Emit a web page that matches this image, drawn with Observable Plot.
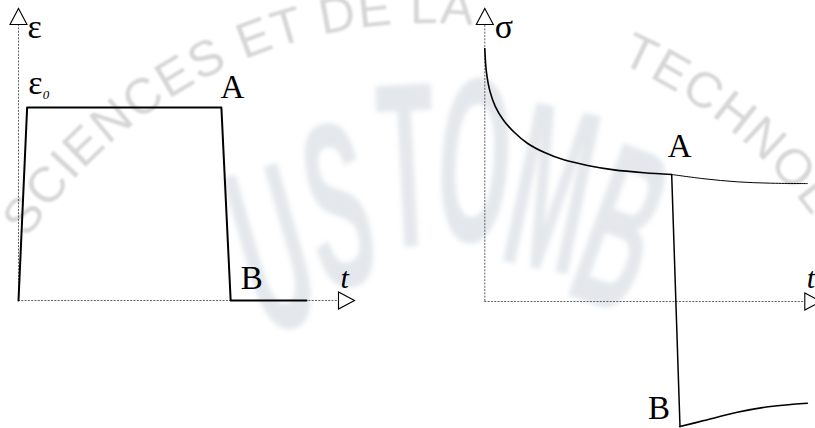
<!DOCTYPE html>
<html>
<head>
<meta charset="utf-8">
<script src="https://cdn.jsdelivr.net/npm/d3@7"></script>
<script src="https://cdn.jsdelivr.net/npm/@observablehq/plot@0.6"></script>
<style>
  body { margin: 0; background: #fff; }
  #fig { position: relative; width: 815px; height: 428px; overflow: hidden; background: #fff; }
  #fig > svg { position: absolute; left: 0; top: 0; }
</style>
</head>
<body>
<div id="fig"></div>
<script>
// ---- Imposed strain history ε(t): ramp up to ε0, hold until A, unload to B ----
const strainT = [0, 0.27, 6.34, 6.63, 9.0];
const strainE = [0, 1, 1, 0, 0];

// ---- Stress response σ(t) ----
// relaxation under constant strain, up to A
const relaxT = [0, 0.05, 0.16, 0.33, 0.59, 0.91, 1.33, 1.85, 2.47, 3.21, 4.04, 4.98, 5.84];
const relaxS = [1.31, 1.19, 1.09, 1.01, 0.938, 0.878, 0.82, 0.773, 0.734, 0.705, 0.682, 0.667, 0.658];
// relaxation that would continue if the strain were kept
const holdT = [5.84, 6.85, 7.89, 8.93, 10.08];
const holdS = [0.658, 0.636, 0.620, 0.613, 0.611];
// sudden unloading A -> B
const dropT = [5.84, 6.10];
const dropS = [0.658, -0.648];
// recovery after B
const recT = [6.10, 6.85, 7.89, 8.93, 10.08];
const recS = [-0.648, -0.617, -0.574, -0.544, -0.527];

// axis extents (time axis length, top of each vertical axis)
const axisT = 10;
const axisTopE = 1.43;
const axisTopS = 1.435;

const pts = (xs, ys) => xs.map((x, i) => ({x, y: ys[i]}));

const serif = "Liberation Serif, Times New Roman, serif";
const fig = d3.select("#fig");

// ---- faint background watermark ----
const wm = fig.append("svg").attr("width", 815).attr("height", 428);
const defs = wm.append("defs");
defs.append("filter").attr("id", "soft").append("feGaussianBlur").attr("stdDeviation", 1.3);
defs.append("filter").attr("id", "softer").append("feGaussianBlur").attr("stdDeviation", 2.8);
defs.append("path").attr("id", "ring").attr("d", "M 13.2 262.5 A 479 479 0 0 1 878.1 338.2");
const ring = wm.append("text")
  .attr("filter", "url(#soft)")
  .attr("fill", "#d6d6d6")
  .attr("font-family", "Liberation Sans, Arial, sans-serif")
  .attr("font-size", 50)
  .attr("letter-spacing", 1.7);
ring.append("textPath").attr("href", "#ring").attr("startOffset", 28).text("SCIENCES ET DE LA");
ring.append("textPath").attr("href", "#ring").attr("startOffset", 698).text("TECHNOLOGIE");

const big = [
  {c: "U", x: 272, y: 248, a: -16},
  {c: "S", x: 338, y: 205, a: -10},
  {c: "T", x: 407, y: 165, a: -3},
  {c: "O", x: 475, y: 160, a: 4},
  {c: "M", x: 552, y: 188, a: 12},
  {c: "B", x: 622, y: 228, a: 20}
];
wm.append("g")
  .attr("filter", "url(#softer)")
  .attr("fill", "#e4e8ec")
  .attr("font-family", "Liberation Sans, Arial, sans-serif")
  .attr("font-weight", "bold")
  .attr("font-size", 235)
  .selectAll("text")
  .data(big)
  .join("text")
  .attr("text-anchor", "middle")
  .attr("dominant-baseline", "central")
  .attr("transform", d => `translate(${d.x},${d.y}) rotate(${d.a}) scale(0.4,1)`)
  .text(d => d.c);

// open arrowhead whose base sits on the anchor point, tip pointing up
const arrowHead = {
  draw(ctx) {
    ctx.moveTo(0, -16);
    ctx.lineTo(8.5, 0);
    ctx.lineTo(-8.5, 0);
    ctx.closePath();
  }
};

function axes(top) {
  return [
    Plot.ruleX([0], {y1: 0, y2: top, stroke: "#3a3a3a", strokeWidth: 0.8, strokeDasharray: "2,1.3"}),
    Plot.ruleY([0], {x1: 0, x2: axisT, stroke: "#3a3a3a", strokeWidth: 0.8, strokeDasharray: "2,1.3"}),
    Plot.dot([{x: 0, y: top}], {x: "x", y: "y", symbol: arrowHead, r: 7, fill: "white", stroke: "black", strokeWidth: 1.1}),
    Plot.dot([{x: axisT, y: 0}], {x: "x", y: "y", symbol: arrowHead, rotate: 90, r: 7, fill: "white", stroke: "black", strokeWidth: 1.1})
  ];
}

function panel(x0, y0, marks) {
  return Plot.plot({
    width: 815,
    height: 428,
    margin: 0,
    style: {background: "transparent", overflow: "visible"},
    x: {domain: [0, axisT], range: [x0, x0 + 320], axis: null},
    y: {domain: [0, 1], range: [y0, y0 - 193], axis: null},
    marks
  });
}

const label = (data, opts) => Plot.text(data, {
  x: "x", y: "y", text: "s",
  fontFamily: serif, fontSize: 33, fill: "black",
  textAnchor: "start", lineAnchor: "bottom",
  ...opts
});

// ---- left panel: strain ----
const strainPlot = panel(18, 300, [
  ...axes(axisTopE),
  Plot.line(pts(strainT, strainE), {x: "x", y: "y", stroke: "black", strokeWidth: 2}),
  label([{x: 0, y: axisTopE, s: "ε"}], {fontSize: 34, dx: 9, dy: 13}),
  label([{x: strainT[1], y: strainE[1], s: "ε"}], {fontSize: 34, dx: 1, dy: -14}),
  label([{x: strainT[1], y: strainE[1], s: "0"}], {fontSize: 13, fontStyle: "italic", dx: 15.5, dy: -9}),
  label([{x: strainT[2], y: strainE[2], s: "A"}], {dx: -1, dy: -10}),
  label([{x: strainT[3], y: strainE[3], s: "B"}], {dx: 10, dy: -12}),
  label([{x: axisT, y: 0, s: "t"}], {fontStyle: "italic", fontSize: 30, dx: 2, dy: -13})
]);

// ---- right panel: stress ----
const stressPlot = panel(484.3, 301, [
  ...axes(axisTopS),
  Plot.line(pts(holdT, holdS), {x: "x", y: "y", stroke: "black", strokeWidth: 1, curve: "catmull-rom"}),
  Plot.line(pts(relaxT, relaxS), {x: "x", y: "y", stroke: "black", strokeWidth: 1.6, curve: "catmull-rom"}),
  Plot.line(pts(dropT, dropS), {x: "x", y: "y", stroke: "black", strokeWidth: 1.5}),
  Plot.line(pts(recT, recS), {x: "x", y: "y", stroke: "black", strokeWidth: 1.6, curve: "catmull-rom"}),
  label([{x: 0, y: axisTopS, s: "σ"}], {fontSize: 34, dx: 10, dy: 13}),
  label([{x: relaxT[relaxT.length - 1], y: relaxS[relaxS.length - 1], s: "A"}], {dx: -4, dy: -18}),
  label([{x: dropT[1], y: dropS[1], s: "B"}], {textAnchor: "end", dx: -10, dy: -8}),
  label([{x: axisT, y: 0, s: "t"}], {fontStyle: "italic", fontSize: 30, dx: 2, dy: -14})
]);

fig.node().append(strainPlot, stressPlot);
</script>
</body>
</html>
